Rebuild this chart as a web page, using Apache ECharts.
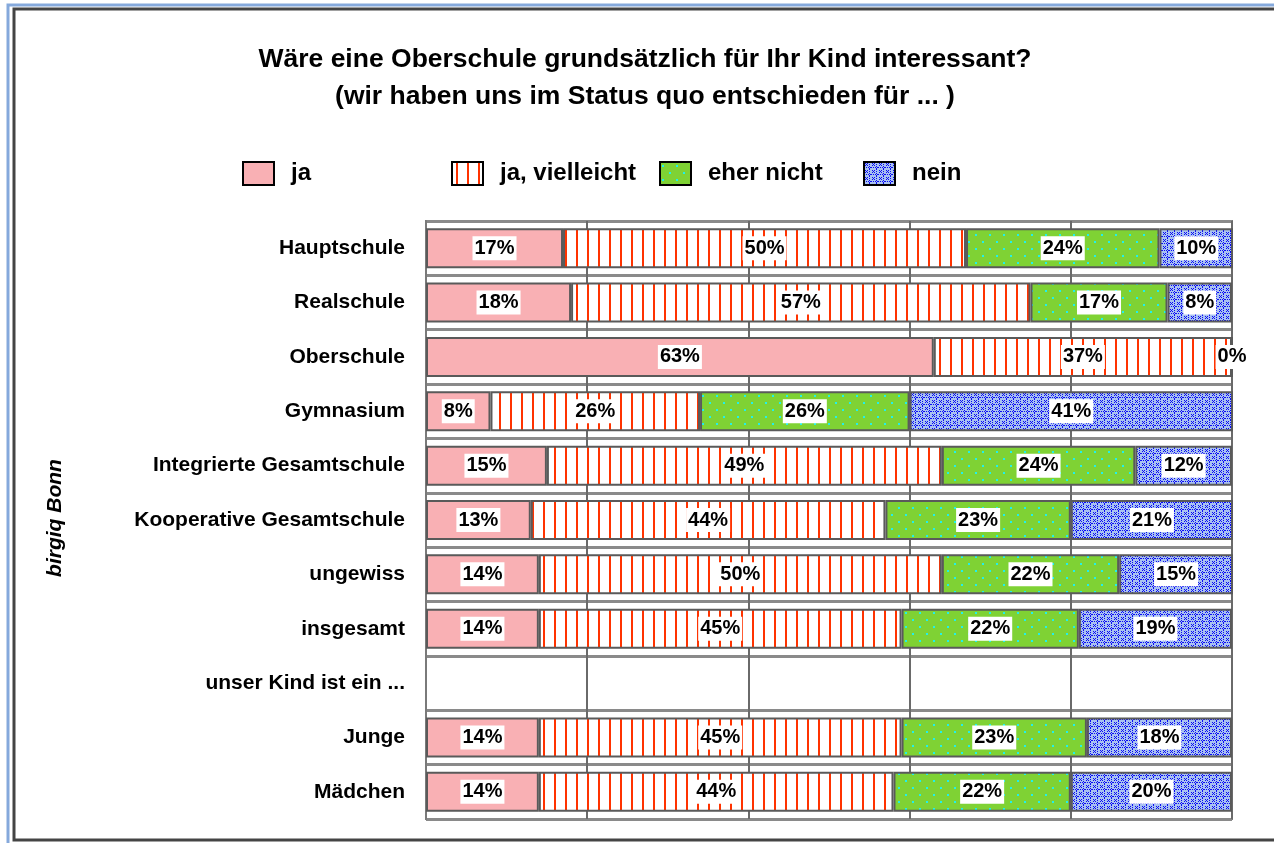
<!DOCTYPE html>
<html>
<head>
<meta charset="utf-8">
<script src="https://cdn.jsdelivr.net/npm/echarts@6/dist/echarts.min.js"></script>
<style>
  html,body{margin:0;padding:0;background:#fff;}
  #main{width:1274px;height:843px;}
</style>
</head>
<body>
<div id="main"></div>
<script>
  const categories = ['Hauptschule','Realschule','Oberschule','Gymnasium','Integrierte Gesamtschule','Kooperative Gesamtschule','ungewiss','insgesamt','unser Kind ist ein ...','Junge','Mädchen'];
  const ja = [17,18,63,8,15,13,14,14,'-',14,14];
  const jaVielleicht = [50,57,37,26,49,44,50,45,'-',45,44];
  const eherNicht = [24,17,'-',26,24,23,22,22,'-',23,22];
  const nein = [10,8,0,41,12,21,15,19,'-',18,20];
  const seriesNames = ['ja','ja, vielleicht','eher nicht','nein'];

  // kleine Muster-Kacheln fuer die Fuellungen
  const makeTile = (w,h,draw) => {
    const c = document.createElement('canvas');
    c.width = w; c.height = h;
    draw(c.getContext('2d'));
    return {image:c, repeat:'repeat'};
  }
  const stripes = makeTile(11,10,(ctx) => {
    ctx.fillStyle = '#ffffff'; ctx.fillRect(0,0,11,10);
    ctx.fillStyle = '#ff3300'; ctx.fillRect(4,0,2,10);
  });
  const dots = makeTile(14,14,(ctx) => {
    ctx.fillStyle = '#7fd234'; ctx.fillRect(0,0,14,14);
    ctx.fillStyle = '#22f0ea';
    ctx.fillRect(2,3,2,2);
    ctx.fillRect(9,10,2,2);
  });
  const crosses = makeTile(7,7,(ctx) => {
    ctx.fillStyle = '#a9c2f0'; ctx.fillRect(0,0,7,7);
    ctx.fillStyle = '#0a0af5';
    // kleines x plus Punktraster
    [[1,1],[3,1],[2,2],[1,3],[3,3]].forEach(p => ctx.fillRect(p[0],p[1],1,1));
    [[5,0],[5,2],[5,4],[5,6],[0,5],[2,5],[4,5],[6,5]].forEach(p => ctx.fillRect(p[0],p[1],1,1));
  });
  const fills = ['#f9b0b4', stripes, dots, crosses];
  const dataList = [ja, jaVielleicht, eherNicht, nein];

  const myChart = echarts.init(document.getElementById('main'));

  const legendLeft = [237, 446, 654, 858];
  const legends = seriesNames.map((name,i) => ({
    data:[name],
    left:legendLeft[i],
    top:156,
    itemWidth:31,
    itemHeight:23,
    selectedMode:false,
    icon:'rect',
    itemStyle:{borderColor:'#000',borderWidth:2},
    textStyle:{fontFamily:'Liberation Sans',fontWeight:'bold',fontSize:24,color:'#000',padding:[0,0,0,12]}
  }));

  const option = {
    backgroundColor:'#fff',
    animation:false,
    legend:legends,
    grid:{
      left:426, right:42, top:221, bottom:24,
      show:true, borderColor:'#7a7a7a', borderWidth:2
    },
    xAxis:{
      type:'value', min:0, max:100, interval:20,
      axisLabel:{show:false}, axisTick:{show:false},
      axisLine:{show:false},
      splitLine:{show:true, lineStyle:{color:'#6a6a6a', width:2}}
    },
    yAxis:{
      type:'category', inverse:true, data:categories,
      axisTick:{show:false},
      axisLine:{show:true, lineStyle:{color:'#7a7a7a', width:2}},
      axisLabel:{fontFamily:'Liberation Sans', fontWeight:'bold', fontSize:21, color:'#000', margin:21},
      splitLine:{show:true, lineStyle:{color:'#8a8a8a', width:3}}
    },
    graphic:[
      {type:'rect', shape:{x:8, y:5, width:1300, height:900}, style:{fill:'none', stroke:'#85a9dc', lineWidth:3}},
      {type:'rect', shape:{x:14, y:9, width:1300, height:831}, style:{fill:'none', stroke:'#444', lineWidth:3}},
      {type:'text', x:645, y:60, style:{text:'Wäre eine Oberschule grundsätzlich für Ihr Kind interessant?', font:'bold 26.5px "Liberation Sans"', fill:'#000', textAlign:'center', textVerticalAlign:'middle'}},
      {type:'text', x:645, y:97, style:{text:'(wir haben uns im Status quo entschieden für ... )', font:'bold 26.5px "Liberation Sans"', fill:'#000', textAlign:'center', textVerticalAlign:'middle'}},
      {type:'text', x:55, y:518, rotation:Math.PI/2, style:{text:'birgiq Bonn', font:'italic bold 21px "Liberation Sans"', fill:'#000', textAlign:'center', textVerticalAlign:'middle'}}
    ],
    series: seriesNames.map((name,i) => ({
      name:name,
      type:'bar',
      stack:'total',
      barWidth:40,
      data:dataList[i],
      itemStyle:{color:fills[i], borderColor:'#5a5a5a', borderWidth:2},
      label:{
        show:true, position:'inside', formatter:'{c}%',
        fontFamily:'Liberation Sans', fontWeight:'bold', fontSize:20, color:'#000',
        backgroundColor:'#fff', padding:[3,2,1,2]
      }
    }))
  };
  myChart.setOption(option);
</script>
</body>
</html>
